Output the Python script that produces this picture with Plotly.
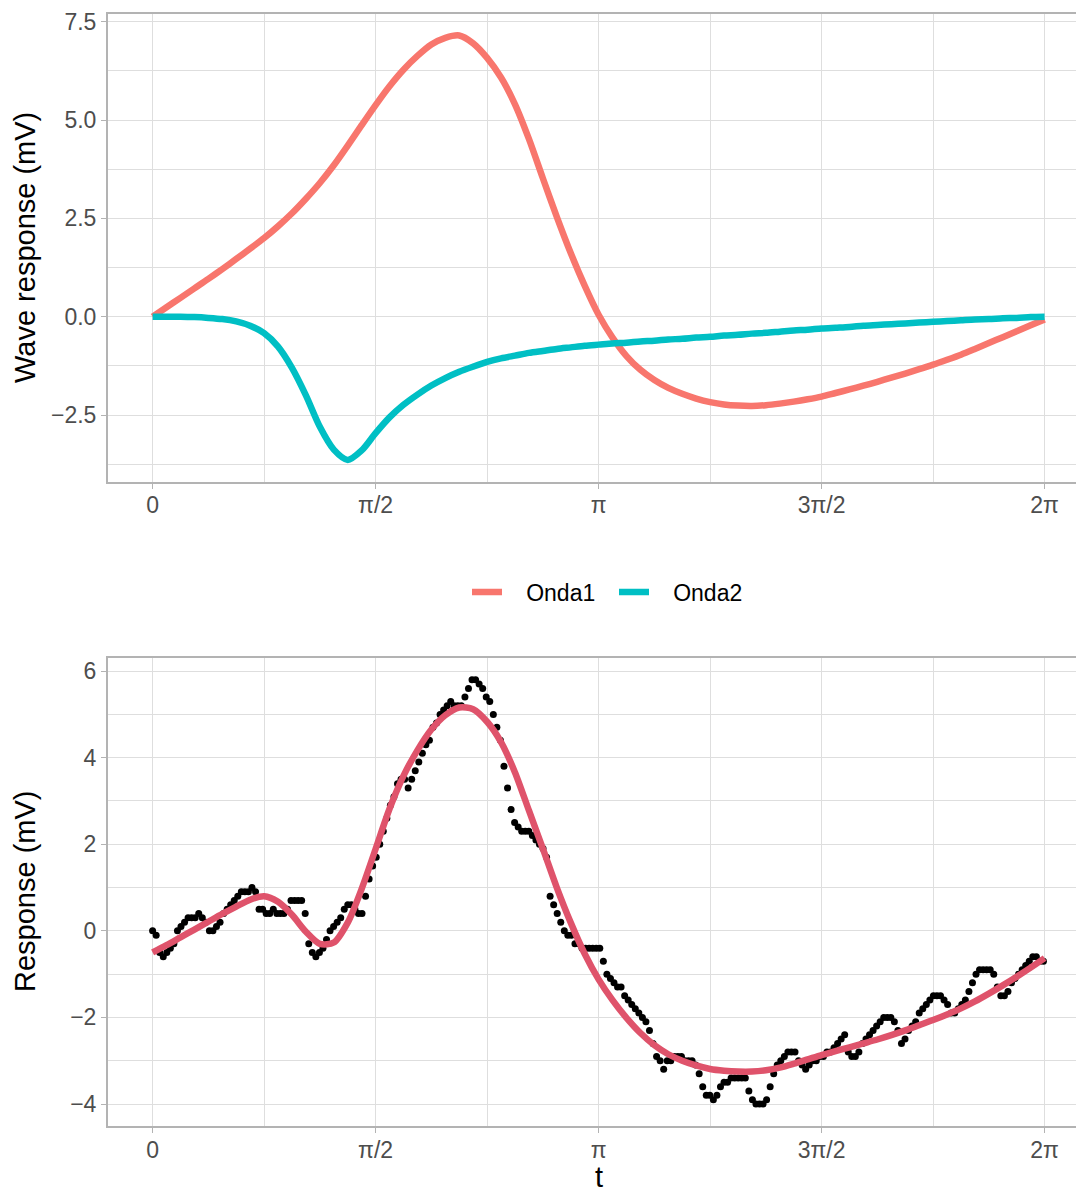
import numpy as np
import plotly.graph_objects as go

PI = np.pi

# Two reference waves, sampled every pi/32 over one period (t in units of pi)
t_wave = [k / 32 for k in range(65)]
onda1 = [0.00, 0.24, 0.48, 0.72, 0.96, 1.21, 1.47, 1.73, 2.00, 2.30,
         2.63, 3.00, 3.40, 3.85, 4.35, 4.87, 5.38, 5.86, 6.28, 6.63,
         6.92, 7.09, 7.15, 6.95, 6.58, 6.08, 5.40, 4.52, 3.52, 2.54,
         1.62, 0.79, 0.05, -0.53, -1.00, -1.35, -1.61, -1.81, -1.96, -2.08,
         -2.17, -2.23, -2.26, -2.27, -2.25, -2.21, -2.16, -2.10, -2.03, -1.94,
         -1.85, -1.755, -1.655, -1.55, -1.445, -1.335, -1.22, -1.095, -0.965, -0.82,
         -0.67, -0.52, -0.37, -0.22, -0.07]
onda2 = [0.00, 0.00, 0.00, -0.01, -0.03, -0.06, -0.12, -0.23, -0.42, -0.76,
         -1.30, -2.00, -2.80, -3.38, -3.64, -3.40, -2.96, -2.56, -2.24, -1.98,
         -1.75, -1.56, -1.40, -1.27, -1.15, -1.06, -0.99, -0.92, -0.87, -0.82,
         -0.78, -0.74, -0.71, -0.68, -0.66, -0.63, -0.61, -0.58, -0.56, -0.53,
         -0.51, -0.48, -0.46, -0.43, -0.41, -0.38, -0.35, -0.33, -0.30, -0.28,
         -0.26, -0.23, -0.21, -0.19, -0.17, -0.15, -0.13, -0.11, -0.09, -0.07,
         -0.06, -0.04, -0.03, -0.01, 0.00]

# Fitted response on the same grid
fit = [-0.50, -0.33, -0.15, 0.03, 0.21, 0.39, 0.56, 0.72, 0.80, 0.67,
       0.37, -0.02, -0.30, -0.27, 0.19, 0.97, 1.89, 2.82, 3.58, 4.17,
       4.65, 4.98, 5.16, 5.12, 4.83, 4.36, 3.66, 2.78, 1.90, 1.00,
       0.19, -0.53, -1.12, -1.60, -2.01, -2.36, -2.64, -2.85, -3.00, -3.11,
       -3.19, -3.23, -3.25, -3.25, -3.22, -3.16, -3.07, -2.97, -2.87, -2.78,
       -2.69, -2.60, -2.51, -2.41, -2.30, -2.18, -2.06, -1.93, -1.79, -1.63,
       -1.45, -1.26, -1.06, -0.85, -0.63]

# Measured response, one sample every 0.025 rad
obs = [0.0, -0.1, -0.5, -0.6, -0.5, -0.4, -0.3, 0.0, 0.1, 0.2,
       0.3, 0.3, 0.3, 0.4, 0.3, 0.2, 0.0, 0.0, 0.1, 0.2,
       0.4, 0.5, 0.6, 0.7, 0.8, 0.9, 0.9, 0.9, 1.0, 0.9,
       0.5, 0.5, 0.4, 0.4, 0.5, 0.4, 0.4, 0.4, 0.5, 0.7,
       0.7, 0.7, 0.7, 0.4, -0.3, -0.5, -0.6, -0.5, -0.4, -0.2,
       0.0, 0.1, 0.2, 0.3, 0.5, 0.6, 0.6, 0.5, 0.4, 0.4,
       0.8, 1.2, 1.5, 1.7, 2.0, 2.3, 2.6, 2.9, 3.1, 3.4,
       3.5, 3.5, 3.3, 3.5, 3.7, 3.9, 4.1, 4.3, 4.4, 4.7,
       4.8, 5.0, 5.1, 5.2, 5.3, 5.2, 5.2, 5.2, 5.4, 5.6,
       5.8, 5.8, 5.7, 5.6, 5.4, 5.3, 5.0, 4.7, 4.4, 3.8,
       3.3, 2.8, 2.5, 2.4, 2.3, 2.3, 2.3, 2.2, 2.1, 2.0,
       1.9, 1.7, 0.8, 0.6, 0.4, 0.2, 0.0, -0.1, -0.1, -0.3,
       -0.3, -0.4, -0.4, -0.4, -0.4, -0.4, -0.4, -0.7, -1.0, -1.1,
       -1.2, -1.3, -1.3, -1.5, -1.6, -1.7, -1.8, -1.9, -2.0, -2.1,
       -2.3, -2.6, -2.9, -3.0, -3.2, -3.0, -3.0, -2.9, -2.9, -2.9,
       -3.0, -3.0, -3.0, -3.1, -3.3, -3.6, -3.8, -3.8, -3.9, -3.8,
       -3.6, -3.5, -3.5, -3.4, -3.4, -3.4, -3.4, -3.4, -3.7, -3.9,
       -4.0, -4.0, -4.0, -3.9, -3.6, -3.3, -3.1, -3.0, -2.9, -2.8,
       -2.8, -2.8, -3.0, -3.1, -3.2, -3.1, -3.0, -3.0, -2.9, -2.9,
       -2.8, -2.8, -2.7, -2.6, -2.5, -2.4, -2.8, -2.9, -2.9, -2.8,
       -2.6, -2.5, -2.4, -2.3, -2.2, -2.1, -2.0, -2.0, -2.0, -2.1,
       -2.3, -2.6, -2.5, -2.3, -2.2, -2.1, -1.9, -1.8, -1.7, -1.6,
       -1.5, -1.5, -1.5, -1.6, -1.7, -1.9, -1.9, -1.8, -1.7, -1.6,
       -1.4, -1.2, -1.0, -0.9, -0.9, -0.9, -0.9, -1.0, -1.3, -1.5,
       -1.5, -1.4, -1.2, -1.1, -1.0, -0.9, -0.8, -0.7, -0.6, -0.6,
       -0.7, -0.7]
t_obs = [0.025 * i for i in range(len(obs))]

x_tickvals = [0, PI / 2, PI, 3 * PI / 2, 2 * PI]
x_ticktext = ["0", "π/2", "π", "3π/2", "2π"]
x_minor = [PI / 4, 3 * PI / 4, 5 * PI / 4, 7 * PI / 4]

y1_ticks = [-2.5, 0.0, 2.5, 5.0, 7.5]
y1_text = ["−2.5", "0.0", "2.5", "5.0", "7.5"]
y1_minor = [-3.75, -1.25, 1.25, 3.75, 6.25]
y2_ticks = [-4, -2, 0, 2, 4, 6]
y2_text = ["−4", "−2", "0", "2", "4", "6"]
y2_minor = [-3, -1, 1, 3, 5]

RED, CYAN, FITCOL = "#F8766D", "#00BFC4", "#DF536B"
FONT = "Liberation Sans, Arial, sans-serif"
tw = [v * PI for v in t_wave]
PAD = "\u00a0\u00a0\u00a0"  # gap between legend key and label

fig = go.Figure()
fig.add_trace(go.Scatter(x=tw, y=onda1, mode="lines", name=PAD + "Onda1",
                         line=dict(color=RED, width=6.5, shape="spline", smoothing=0.8),
                         xaxis="x", yaxis="y"))
fig.add_trace(go.Scatter(x=tw, y=onda2, mode="lines", name=PAD + "Onda2",
                         line=dict(color=CYAN, width=6.5, shape="spline", smoothing=0.8),
                         xaxis="x", yaxis="y"))
fig.add_trace(go.Scatter(x=t_obs, y=obs, mode="markers", showlegend=False,
                         marker=dict(color="black", size=7, line=dict(width=0)),
                         xaxis="x2", yaxis="y2"))
fig.add_trace(go.Scatter(x=tw, y=fit, mode="lines", showlegend=False,
                         line=dict(color=FITCOL, width=6.5, shape="spline", smoothing=0.8),
                         xaxis="x2", yaxis="y2"))

GRID = "#DEDEDE"
BORDER = "#B3B3B3"
xr = [-0.1 * PI, 2.0704 * PI]


def xaxis(anchor):
    return dict(domain=[0, 1], anchor=anchor, range=xr, tickvals=x_tickvals,
                ticktext=x_ticktext, ticks="outside", ticklen=5, tickwidth=1.4,
                tickcolor=BORDER, showline=True, linecolor=BORDER, linewidth=2,
                mirror=True, showgrid=True, gridcolor=GRID, gridwidth=1.3,
                zeroline=False, tickfont=dict(size=23, color="#4D4D4D"),
                ticklabelstandoff=-3, automargin=False,
                minor=dict(tickvals=x_minor, showgrid=True, gridcolor=GRID,
                           gridwidth=0.7, ticks=""))


def yaxis(anchor, dom, rng, tv, tt, mn):
    return dict(domain=dom, anchor=anchor, range=rng, tickvals=tv, ticktext=tt,
                ticks="outside", ticklen=5, tickwidth=1.4, tickcolor=BORDER,
                showline=True, linecolor=BORDER, linewidth=2, mirror=False,
                showgrid=True, gridcolor=GRID, gridwidth=1.3, zeroline=False,
                tickfont=dict(size=23, color="#4D4D4D"), automargin=False,
                minor=dict(tickvals=mn, showgrid=True, gridcolor=GRID,
                           gridwidth=0.7, ticks=""))


fig.update_layout(
    width=1076, height=1195,
    margin=dict(l=108, r=0, t=14, b=69, autoexpand=False),
    plot_bgcolor="white", paper_bgcolor="white",
    font=dict(family=FONT, color="black"),
    xaxis=xaxis("y"),
    yaxis=yaxis("x", [0.5794, 1], [-4.195, 7.696], y1_ticks, y1_text, y1_minor),
    xaxis2=xaxis("y2"),
    yaxis2=yaxis("x2", [0, 0.4205], [-4.508, 6.293], y2_ticks, y2_text, y2_minor),
    legend=dict(orientation="h", xref="container", yref="container",
                x=614 / 1076, y=1 - 592 / 1195, xanchor="center", yanchor="middle",
                font=dict(size=23, color="black"), itemwidth=30, entrywidth=102,
                bgcolor="rgba(0,0,0,0)"),
    annotations=[
        dict(text="Wave response (mV)", xref="paper", yref="paper",
             x=-(108 - 25) / 968, y=(1126 - 248) / 1112, xanchor="center",
             yanchor="middle", textangle=-90, showarrow=False,
             font=dict(size=29, color="black")),
        dict(text="Response (mV)", xref="paper", yref="paper",
             x=-(108 - 25) / 968, y=(1126 - 892) / 1112, xanchor="center",
             yanchor="middle", textangle=-90, showarrow=False,
             font=dict(size=29, color="black")),
        dict(text="t", xref="paper", yref="paper",
             x=(599 - 108) / 968, y=(1126 - 1177) / 1112, xanchor="center",
             yanchor="middle", showarrow=False, font=dict(size=29, color="black")),
    ],
)

fig.write_html("out.html")
